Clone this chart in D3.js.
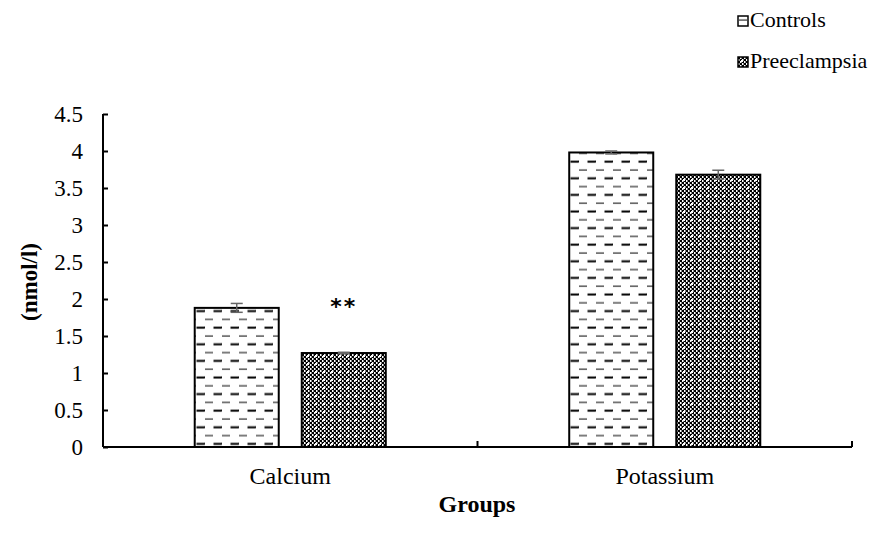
<!DOCTYPE html>
<html>
  <head>
    <meta charset="utf-8">
    <title>Calcium and Potassium</title>
    <script src="https://d3js.org/d3.v7.min.js"></script>
    <style>
      body { margin: 0; background: #fff; }
      text { font-family: "Liberation Serif", "DejaVu Serif", serif; fill: #000; }
    </style>
  </head>
  <body>
    <svg id="canvas" width="882" height="545"></svg>
    <script>

      // data
      var groups = ["Calcium", "Potassium"];
      var series = ["Controls", "Preeclampsia"];
      var controls = [1.88, 3.98];
      var controlsErr = [0.06, 0.02];
      var preeclampsia = [1.27, 3.68];
      var preeclampsiaErr = [0.01, 0.06];
      var yTicks = [0, 0.5, 1, 1.5, 2, 2.5, 3, 3.5, 4, 4.5];

      var rows = [];
      groups.forEach(function(g, i){
        rows.push({group: g, series: "Controls", value: controls[i], err: controlsErr[i]});
        rows.push({group: g, series: "Preeclampsia", value: preeclampsia[i], err: preeclampsiaErr[i]});
      });

      var svg = d3.select("#canvas");
      var defs = svg.append("defs");

      // dashed pattern for controls
      var p1 = defs.append("pattern").attr("id", "dash")
        .attr("patternUnits", "userSpaceOnUse")
        .attr("width", 17).attr("height", 16.6)
        .attr("x", 0).attr("y", 0);
      p1.append("rect").attr("width", 17).attr("height", 16.6).style("fill", "#fff");
      p1.append("line").attr("x1", 1).attr("x2", 9).attr("y1", 4).attr("y2", 4)
        .style("stroke", "#000").style("stroke-width", 1);
      p1.append("line").attr("x1", 9.5).attr("x2", 17).attr("y1", 12.3).attr("y2", 12.3)
        .style("stroke", "#000").style("stroke-width", 2);
      p1.append("line").attr("x1", 0).attr("x2", 1).attr("y1", 12.3).attr("y2", 12.3)
        .style("stroke", "#000").style("stroke-width", 2);

      // dense checker pattern for preeclampsia
      var p2 = defs.append("pattern").attr("id", "check")
        .attr("patternUnits", "userSpaceOnUse")
        .attr("width", 8).attr("height", 8);
      p2.append("rect").attr("width", 8).attr("height", 8).style("fill", "#fff");
      [[0,0],[2,2],[4,0],[6,2],[0,4],[2,6],[4,4],[6,6]].forEach(function(c){
        p2.append("rect").attr("x", c[0]).attr("y", c[1]).attr("width", 2).attr("height", 2).style("fill", "#000");
      });
      [[1,2],[3,0],[5,2],[7,0],[1,6],[3,4],[5,6],[7,4]].forEach(function(c){
        p2.append("rect").attr("x", c[0]).attr("y", c[1]).attr("width", 1).attr("height", 2).style("fill", "#888");
      });
      p2.append("rect").attr("x", 3).attr("y", 3).attr("width", 2).attr("height", 2).style("fill", "#fff");

      var fills = {"Controls": "url(#dash)", "Preeclampsia": "url(#check)"};

      var plotLeft = 103, plotRight = 852, plotTop = 114, plotBottom = 447;

      var x = d3.scaleBand().domain(groups).range([plotLeft, plotRight]);
      var xs = d3.scaleBand().domain(series).range([0, x.bandwidth()]).paddingInner(0.215).paddingOuter(0.857);
      var y = d3.scaleLinear().domain([0, 4.5]).range([plotBottom, plotTop]);

      // bars
      svg.selectAll(".bar")
        .data(rows)
        .enter()
        .append("rect")
        .attr("x", function(d){ return x(d.group) + xs(d.series); })
        .attr("y", function(d){ return y(d.value); })
        .attr("width", xs.bandwidth())
        .attr("height", function(d){ return y(0) - y(d.value); })
        .style("fill", function(d){ return fills[d.series]; })
        .style("stroke", "#000")
        .style("stroke-width", 2);

      // error bars
      var eb = svg.selectAll(".err")
        .data(rows)
        .enter()
        .append("g")
        .style("stroke", "#666")
        .style("stroke-width", 1.5);
      eb.append("line")
        .attr("x1", function(d){ return x(d.group) + xs(d.series) + xs.bandwidth() / 2; })
        .attr("x2", function(d){ return x(d.group) + xs(d.series) + xs.bandwidth() / 2; })
        .attr("y1", function(d){ return y(d.value - d.err); })
        .attr("y2", function(d){ return y(d.value + d.err); });
      [-1, 1].forEach(function(s){
        eb.append("line")
          .attr("x1", function(d){ return x(d.group) + xs(d.series) + xs.bandwidth() / 2 - 6; })
          .attr("x2", function(d){ return x(d.group) + xs(d.series) + xs.bandwidth() / 2 + 6; })
          .attr("y1", function(d){ return y(d.value + s * d.err); })
          .attr("y2", function(d){ return y(d.value + s * d.err); });
      });

      // y axis
      var yAxis = svg.append("g")
        .attr("transform", "translate(" + plotLeft + ",0)")
        .call(d3.axisLeft(y).tickValues(yTicks).tickSize(-5).tickPadding(20).tickFormat(d3.format("")));
      yAxis.selectAll("path, line").style("stroke", "#000").style("stroke-width", 2);
      yAxis.select(".domain").attr("d", "M0," + plotTop + "V" + plotBottom);
      yAxis.selectAll("text").style("font-size", "23px").style("font-family", "Liberation Serif, serif");

      // x axis
      var xAxis = svg.append("g")
        .attr("transform", "translate(0," + plotBottom + ")")
        .call(d3.axisBottom(x).tickSize(0).tickPadding(20));
      xAxis.select(".domain").attr("d", "M" + plotLeft + ",0H" + plotRight).style("stroke", "#000").style("stroke-width", 2);
      xAxis.selectAll("text").style("font-size", "24px").style("font-family", "Liberation Serif, serif");

      svg.selectAll(".xtick")
        .data(groups)
        .enter()
        .append("line")
        .attr("x1", function(d){ return x(d) + x.bandwidth(); })
        .attr("x2", function(d){ return x(d) + x.bandwidth(); })
        .attr("y1", plotBottom)
        .attr("y2", plotBottom - 6)
        .style("stroke", "#000")
        .style("stroke-width", 2);

      // significance mark
      svg.append("text")
        .attr("x", x("Calcium") + xs("Preeclampsia") + xs.bandwidth() / 2)
        .attr("y", 314)
        .style("text-anchor", "middle")
        .style("font-size", "22px")
        .style("font-weight", "bold")
        .style("font-family", "DejaVu Sans")
        .style("letter-spacing", "2px")
        .text("**");

      // axis titles
      svg.append("text")
        .attr("transform", "translate(37,282) rotate(-90)")
        .style("text-anchor", "middle")
        .style("font-size", "23px")
        .style("font-weight", "bold")
        .text("(nmol/l)");

      svg.append("text")
        .attr("x", 477)
        .attr("y", 512)
        .style("text-anchor", "middle")
        .style("font-size", "24px")
        .style("font-weight", "bold")
        .text("Groups");

      // legend
      var lg = svg.selectAll(".legend")
        .data(series)
        .enter()
        .append("g")
        .attr("transform", function(d, i){ return "translate(738," + (16 + i * 41) + ")"; });
      lg.append("rect")
        .attr("width", 10).attr("height", 10)
        .style("fill", function(d){ return fills[d]; })
        .style("stroke", "#000")
        .style("stroke-width", 1.5);
      lg.append("text")
        .attr("x", 12)
        .attr("y", 11)
        .style("font-size", "22px")
        .text(function(d){ return d; });

    </script>
  </body>
</html>
